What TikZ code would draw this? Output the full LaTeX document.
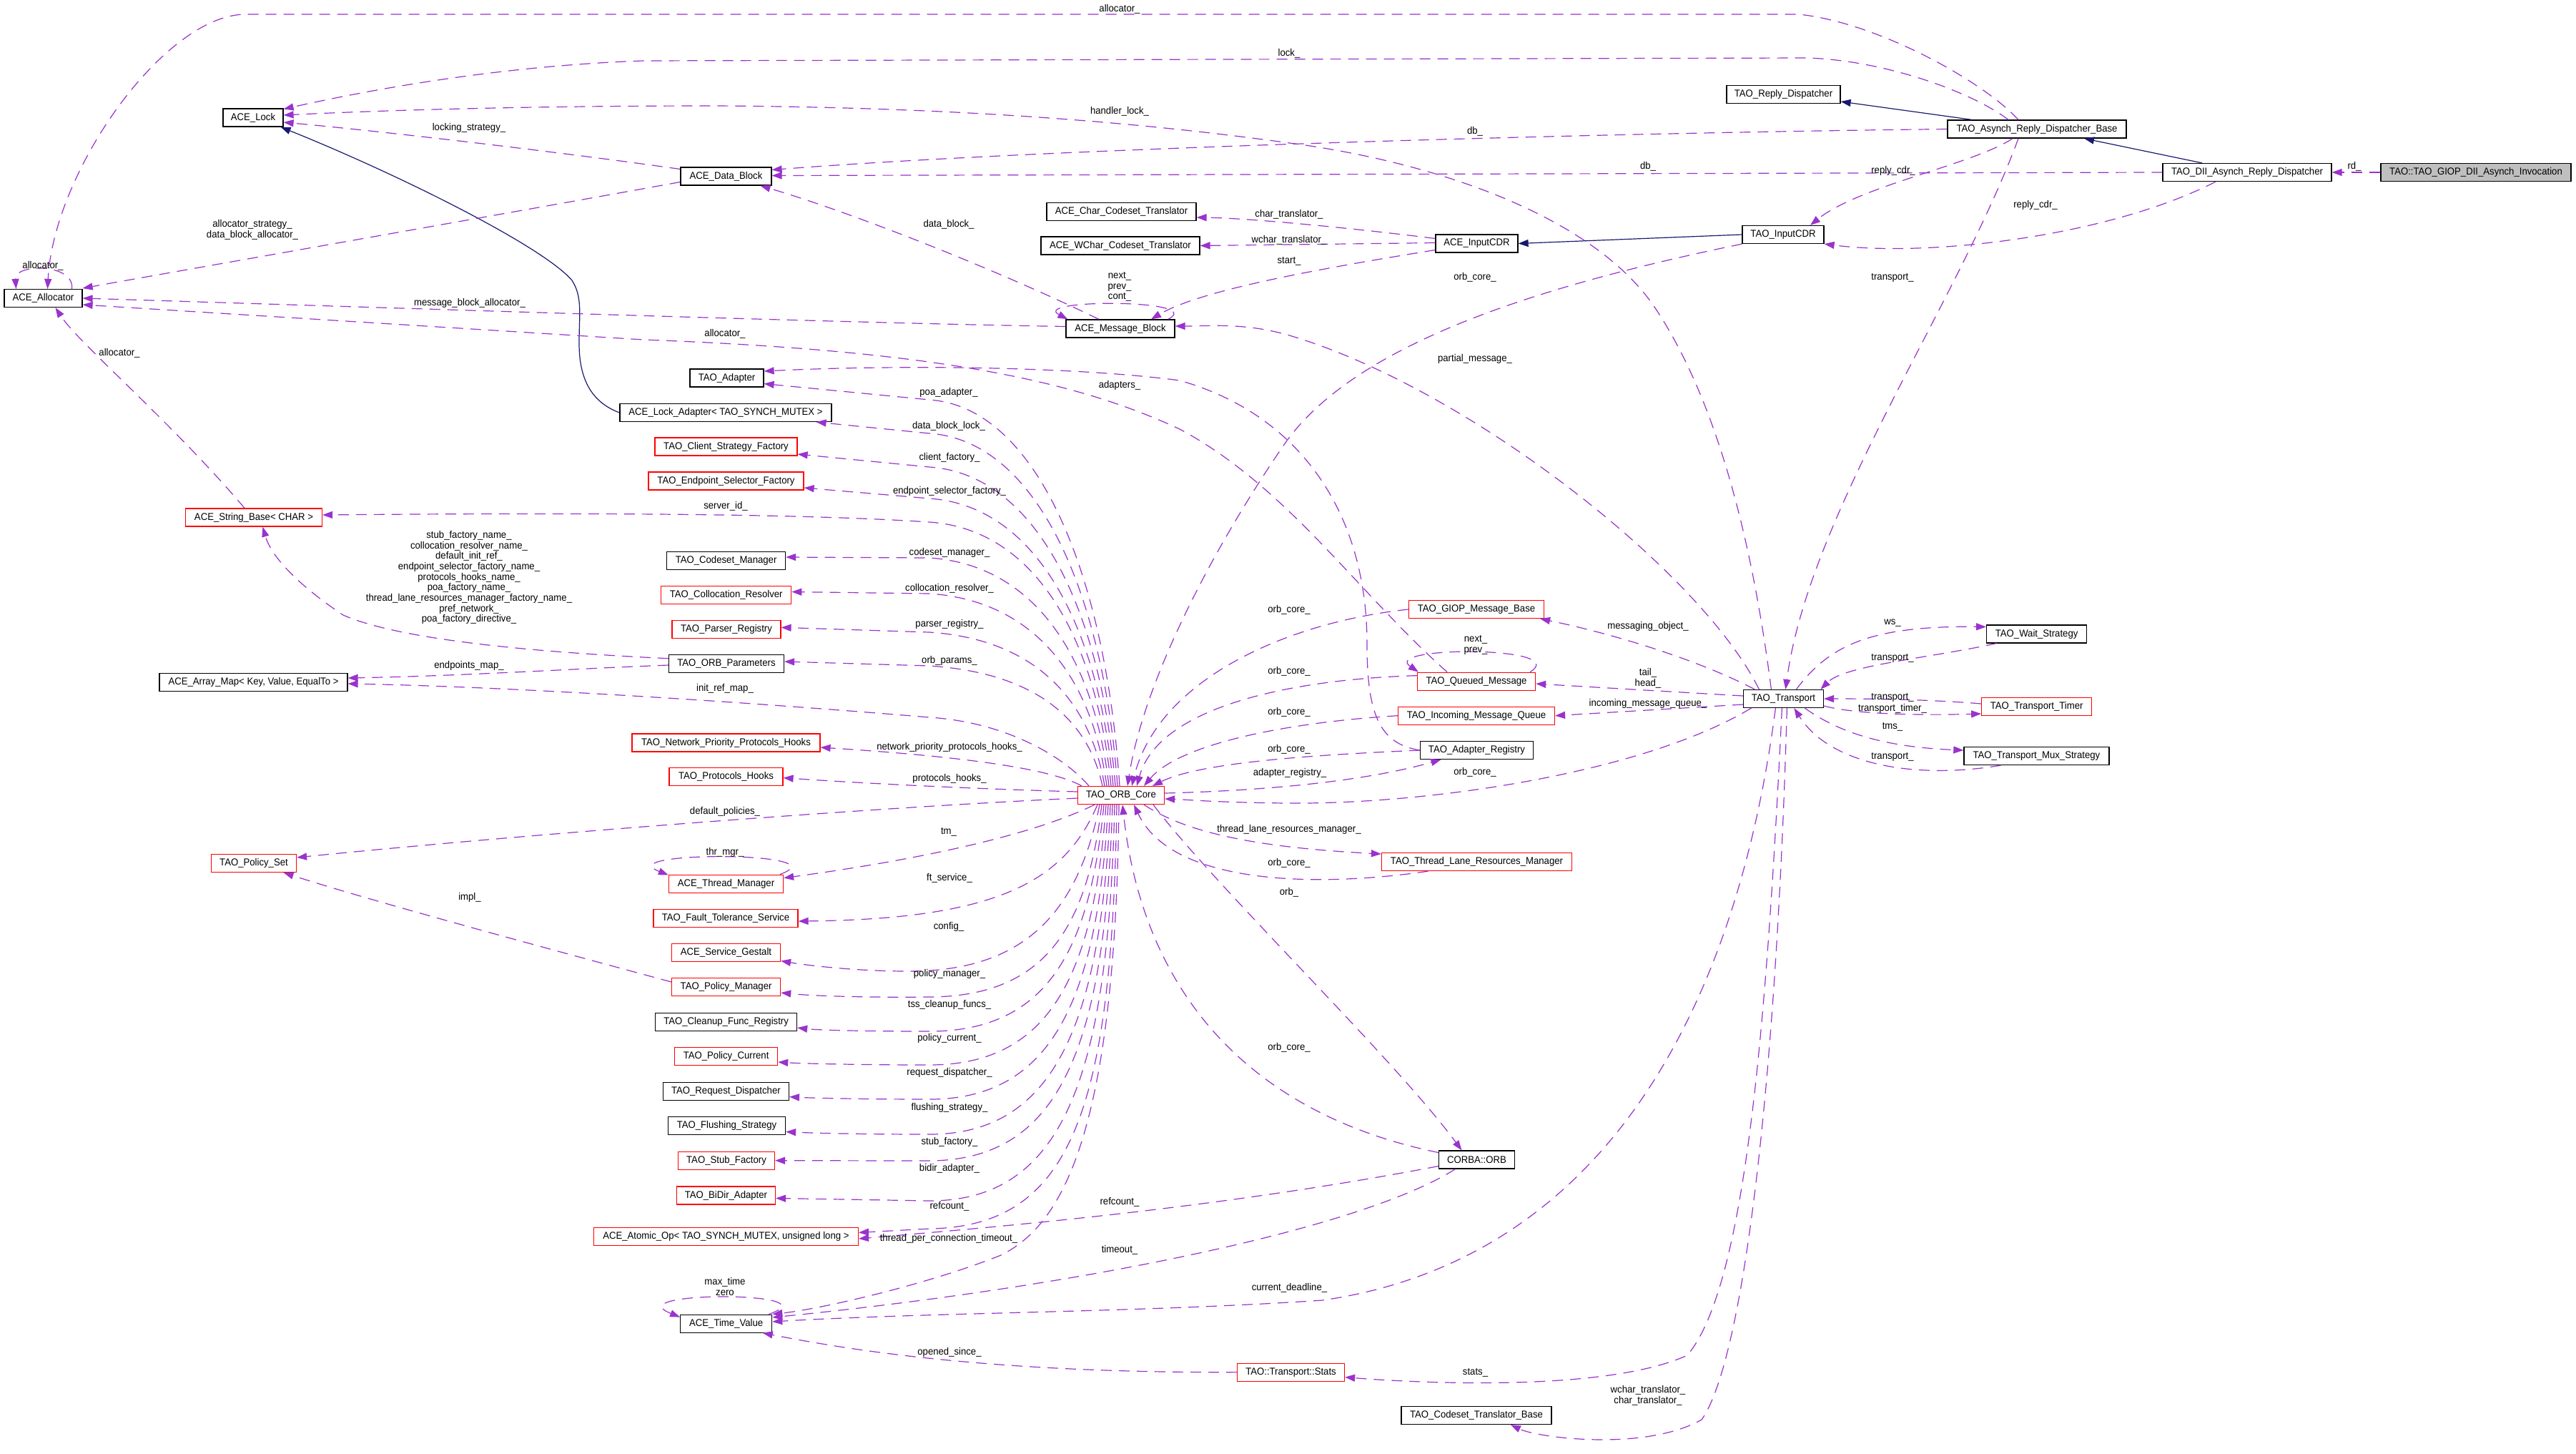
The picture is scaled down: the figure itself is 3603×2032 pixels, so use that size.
\documentclass[tikz,border=0pt]{standalone}
\usepackage{fontspec}
\setmainfont{Liberation Sans}[FakeStretch=0.94]
\usetikzlibrary{arrows.meta}
\definecolor{memc}{HTML}{9A32CD}
\definecolor{inhc}{HTML}{191970}
\definecolor{grayfill}{HTML}{BFBFBF}
\newcommand\lfont{\fontsize{14}{14.7}\selectfont}
\newcommand\topfan[3]{\draw[mem] ([xshift=-#1]core.north) .. controls ({1548-#1},{#2+0.45*(1099-#2)}) and (1450,{#2+10}) .. (1300,#2) -- #3;}
\begin{document}
\begin{tikzpicture}[x=1pt,y=-1pt,
  box/.style={draw=black, fill=white, line width=1.2pt, minimum height=25pt, inner sep=0pt, font=\lfont},
  rbox/.style={box, draw=red},
  mem/.style={draw=memc, line width=1.2pt, dash pattern=on 15pt off 10pt, -{Triangle[length=14pt,width=10pt]}},
  inh/.style={draw=inhc, line width=1.2pt, -{Triangle[length=14pt,width=10pt]}},
  lbl/.style={font=\lfont, align=center, inner sep=0pt}]
\fill[white] (0,0) rectangle (3603,2032);
\useasboundingbox (0,0) rectangle (3603,2032);
% ---------------- nodes
\node[box,minimum width=109pt] (alloc) at (60.5,417) {ACE\_Allocator};
\node[box,minimum width=84pt] (lock) at (354,164.5) {ACE\_Lock};
\node[box,minimum width=127pt] (datablock) at (1015.5,246.5) {ACE\_Data\_Block};
\node[box,minimum width=209pt] (chartr) at (1568.5,296) {ACE\_Char\_Codeset\_Translator};
\node[box,minimum width=222pt] (wchartr) at (1567,343.5) {ACE\_WChar\_Codeset\_Translator};
\node[box,minimum width=152pt] (msgblock) at (1567,459.5) {ACE\_Message\_Block};
\node[box,minimum width=103pt] (adapter) at (1016.5,528.5) {TAO\_Adapter};
\node[box,minimum width=296pt] (lockadapter) at (1015,577) {ACE\_Lock\_Adapter< TAO\_SYNCH\_MUTEX >};
\node[rbox,minimum width=199pt] (csf) at (1015.5,624.5) {TAO\_Client\_Strategy\_Factory};
\node[rbox,minimum width=217pt] (esf) at (1015.5,672.5) {TAO\_Endpoint\_Selector\_Factory};
\node[rbox,minimum width=191pt] (strbase) at (355,723.5) {ACE\_String\_Base< CHAR >};
\node[box,minimum width=166pt] (csm) at (1015.6,784) {TAO\_Codeset\_Manager};
\node[rbox,minimum width=182pt] (colres) at (1015.7,832) {TAO\_Collocation\_Resolver};
\node[rbox,minimum width=152pt] (parser) at (1016,880) {TAO\_Parser\_Registry};
\node[box,minimum width=161pt] (orbparams) at (1016,928) {TAO\_ORB\_Parameters};
\node[box,minimum width=263pt] (arraymap) at (354.5,954) {ACE\_Array\_Map< Key, Value, EqualTo >};
\node[rbox,minimum width=263pt] (nphooks) at (1015.5,1038.5) {TAO\_Network\_Priority\_Protocols\_Hooks};
\node[rbox,minimum width=159pt] (phooks) at (1015.5,1086) {TAO\_Protocols\_Hooks};
\node[rbox,minimum width=121pt] (core) at (1568,1112) {TAO\_ORB\_Core};
\node[rbox,minimum width=119pt] (policyset) at (355,1207) {TAO\_Policy\_Set};
\node[rbox,minimum width=160pt] (thrmgr) at (1015.5,1235.6) {ACE\_Thread\_Manager};
\node[rbox,minimum width=202pt] (fts) at (1015,1284) {TAO\_Fault\_Tolerance\_Service};
\node[rbox,minimum width=152pt] (gestalt) at (1015.5,1332) {ACE\_Service\_Gestalt};
\node[rbox,minimum width=152pt] (polman) at (1015.6,1380) {TAO\_Policy\_Manager};
\node[box,minimum width=198pt] (cleanup) at (1015.6,1428.7) {TAO\_Cleanup\_Func\_Registry};
\node[rbox,minimum width=144pt] (polcur) at (1015.6,1477) {TAO\_Policy\_Current};
\node[box,minimum width=176pt] (reqdisp) at (1015.4,1525.6) {TAO\_Request\_Dispatcher};
\node[box,minimum width=164pt] (flush) at (1016.5,1574) {TAO\_Flushing\_Strategy};
\node[rbox,minimum width=135pt] (stubf) at (1016,1622.7) {TAO\_Stub\_Factory};
\node[rbox,minimum width=138pt] (bidir) at (1015.4,1671.4) {TAO\_BiDir\_Adapter};
\node[rbox,minimum width=370pt] (atomic) at (1015.4,1729) {ACE\_Atomic\_Op< TAO\_SYNCH\_MUTEX, unsigned long >};
\node[box,minimum width=128pt] (timev) at (1015.7,1850.6) {ACE\_Time\_Value};
\node[rbox,minimum width=150pt] (stats) at (1805.5,1918.6) {TAO::Transport::Stats};
\node[box,minimum width=106pt] (corbaorb) at (2065.5,1621.5) {CORBA::ORB};
\node[box,minimum width=210pt] (ctb) at (2065,1979) {TAO\_Codeset\_Translator\_Base};
\node[rbox,minimum width=189pt] (giop) at (2065,852) {TAO\_GIOP\_Message\_Base};
\node[rbox,minimum width=165pt] (qmsg) at (2065,952.6) {TAO\_Queued\_Message};
\node[rbox,minimum width=219pt] (imq) at (2065,1000.7) {TAO\_Incoming\_Message\_Queue};
\node[box,minimum width=158pt] (adreg) at (2065.5,1049) {TAO\_Adapter\_Registry};
\node[rbox,minimum width=266pt] (tlrm) at (2065.5,1205) {TAO\_Thread\_Lane\_Resources\_Manager};
\node[box,minimum width=112pt] (transport) at (2494.4,977) {TAO\_Transport};
\node[box,minimum width=115pt] (inputcdr) at (2065.5,340.5) {ACE\_InputCDR};
\node[box,minimum width=114pt] (taoinputcdr) at (2494,328) {TAO\_InputCDR};
\node[box,minimum width=159pt] (replydisp) at (2494.5,132) {TAO\_Reply\_Dispatcher};
\node[box,minimum width=250pt] (ardb) at (2849,180.5) {TAO\_Asynch\_Reply\_Dispatcher\_Base};
\node[box,minimum width=236pt] (diiard) at (3143,241) {TAO\_DII\_Asynch\_Reply\_Dispatcher};
\node[box,fill=grayfill,minimum width=266pt] (invocation) at (3463,241) {TAO::TAO\_GIOP\_DII\_Asynch\_Invocation};
\node[box,minimum width=140pt] (waits) at (2848.6,886.4) {TAO\_Wait\_Strategy};
\node[rbox,minimum width=154pt] (ttimer) at (2848.7,988) {TAO\_Transport\_Timer};
\node[box,minimum width=203pt] (tms) at (2848.4,1057) {TAO\_Transport\_Mux\_Strategy};
% ---------------- inheritance
\draw[inh] ([xshift=-63]diiard.north) -- ([xshift=66]ardb.south);
\draw[inh] ([xshift=-91]ardb.north) -- ([yshift=-10]replydisp.east);
\draw[inh] (taoinputcdr.west) -- (inputcdr.east);
\draw[inh] (lockadapter.west) .. controls (835,565) and (810,540) .. (810,480) .. controls (810,440) and (815,415) .. (800,392) .. controls (760,345) and (560,245) .. ([xshift=-4]lock.south east);
% ---------------- top area
\draw[mem] (invocation.west) -- (diiard.east);
\draw[mem] (ardb.west) .. controls (2300,185) and (1500,205) .. ([yshift=9]datablock.east);
\draw[mem] (diiard.west) -- ([yshift=1]datablock.east);
\draw[mem] ([xshift=-26]ardb.north) .. controls (2770,110) and (2620,30) .. (2515,20) -- (344,20) .. controls (230,20) and (75,240) .. ([xshift=6]alloc.north);
\draw[mem] ([xshift=-40]ardb.north) .. controls (2760,130) and (2640,85) .. (2529,81) -- (900,85) .. controls (700,92) and (520,125) .. ([yshift=12]lock.east);
\draw[mem] ([xshift=-17]transport.north) .. controls (2450,750) and (2400,560) .. (2317,433.6) .. controls (2230,300) and (2000,225) .. (1800,199.5) .. controls (1600,172) and (1350,150) .. (1000,148) .. controls (700,148) and (500,156) .. ([yshift=3.5]lock.east);
\draw[mem] ([yshift=10]datablock.west) .. controls (800,215) and (550,185) .. ([yshift=-6.5]lock.east);
\draw[mem] ([yshift=-8]datablock.west) .. controls (700,300) and (300,370) .. ([yshift=14]alloc.east);
\draw[mem] ([xshift=40]alloc.north) .. controls (105,368) and (20,368) .. ([xshift=-38]alloc.north);
\draw[mem] ([xshift=-13]strbase.north) .. controls (240,590) and (110,480) .. ([xshift=17]alloc.south);
\draw[mem] ([yshift=3]msgblock.west) .. controls (1200,452) and (600,432) .. (alloc.east);
\draw[mem] ([xshift=-41]qmsg.north) .. controls (1900,830) and (1800,680) .. (1650,600) .. controls (1500,530) and (1300,490) .. (900,475) -- ([yshift=-9]alloc.east);
\draw[mem] (adreg.west) .. controls (1930,1040) and (1912,1000) .. (1912,900) .. controls (1912,720) and (1820,580) .. (1650,532) .. controls (1500,512) and (1250,510) .. ([yshift=9.5]adapter.east);
\draw[mem] ([xshift=-34]ardb.south) .. controls (2760,230) and (2600,260) .. ([xshift=38]taoinputcdr.north);
\draw[mem] ([xshift=-44]diiard.south) .. controls (2950,330) and (2700,360) .. (taoinputcdr.south east);
\draw[mem] ([xshift=-26]ardb.south) .. controls (2740,420) and (2530,720) .. ([xshift=3]transport.north);
\draw[mem] ([yshift=7]inputcdr.west) .. controls (1900,320) and (1750,305) .. ([yshift=-8]chartr.east);
\draw[mem] ([yshift=1]inputcdr.west) -- (wchartr.east);
\draw[mem] ([yshift=-9]inputcdr.west) .. controls (1850,375) and (1680,405) .. ([xshift=43]msgblock.north);
\draw[mem] ([xshift=-10]msgblock.north east) .. controls (1690,418) and (1440,418) .. ([xshift=3]msgblock.north west);
\draw[mem] ([xshift=-30]msgblock.north) .. controls (1400,380) and (1200,300) .. ([xshift=48]datablock.south);
\draw[mem] ([xshift=-34]transport.north) .. controls (2380,800) and (2050,540) .. (1800,468) .. controls (1740,451) and (1690,456) .. ([yshift=3.5]msgblock.east);
\draw[mem] ([yshift=7.3]orbparams.west) .. controls (750,912) and (560,895) .. (480,860) .. controls (420,820) and (380,780) .. ([xshift=12.4]strbase.south);
\draw[mem] ([yshift=-2]orbparams.west) .. controls (800,935) and (650,945) .. ([yshift=6]arraymap.east);
% ---------------- ORB core top fan
\topfan{2}{559}{([yshift=-8]adapter.east)}
\topfan{5}{606}{([xshift=-22]lockadapter.south east)}
\topfan{8}{653}{([yshift=-10.5]csf.east)}
\topfan{11}{697}{([yshift=-9.5]esf.east)}
\draw[mem] ([xshift=-14]core.north) .. controls (1534,896) and (1450,740) .. (1300,730) .. controls (1150,720) and (900,716) .. ([yshift=3.5]strbase.east);
\topfan{17}{780}{([yshift=5]csm.east)}
\topfan{20}{830}{([yshift=4.5]colres.east)}
\topfan{23}{884}{([yshift=2.7]parser.east)}
\topfan{26}{931}{([yshift=3]orbparams.east)}
\draw[mem] ([xshift=-45]core.north) .. controls (1490,1060) and (1410,1010) .. (1300,1003) .. controls (1000,978) and (700,960) .. ([yshift=-2]arraymap.east);
\draw[mem] ([xshift=-55]core.north) .. controls (1470,1075) and (1350,1058) .. ([yshift=-6.5]nphooks.east);
\draw[mem] ([yshift=5]core.west) .. controls (1400,1104) and (1250,1098) .. ([yshift=-1.6]phooks.east);
\draw[mem] ([yshift=-4]core.west) .. controls (1200,1130) and (700,1170) .. ([yshift=8]policyset.east);
\draw[mem] ([yshift=7]polman.west) .. controls (780,1330) and (520,1260) .. ([xshift=-18.5]policyset.south east);
% ---------------- ORB core bottom fan
\draw[mem] ([xshift=-5]thrmgr.north east) .. controls (1180,1190) and (850,1190) .. ([yshift=-1]thrmgr.north west);
\draw[mem] ([xshift=-37]core.south) .. controls (1450,1165) and (1300,1200) .. ([yshift=8]thrmgr.east);
\draw[mem] ([xshift=-33]core.south) .. controls (1490,1230) and (1400,1285) .. ([yshift=-4]fts.east);
\draw[mem] ([xshift=-30]core.south) .. controls (1505,1290) and (1420,1358) .. (1270,1358) .. controls (1200,1358) and (1130,1350) .. ([yshift=-11.5]gestalt.east);
\draw[mem] ([xshift=-27]core.south) .. controls (1520,1300) and (1460,1393) .. (1300,1394) .. controls (1200,1395) and (1130,1392) .. ([yshift=-8]polman.east);
\draw[mem] ([xshift=-24]core.south) .. controls (1525,1320) and (1470,1442) .. (1300,1442) .. controls (1200,1442) and (1140,1440) .. ([yshift=-8.3]cleanup.east);
\draw[mem] ([xshift=-21]core.south) .. controls (1530,1360) and (1470,1489) .. (1300,1489) .. controls (1200,1489) and (1120,1487) .. ([yshift=-8]polcur.east);
\draw[mem] ([xshift=-18]core.south) .. controls (1535,1400) and (1470,1537) .. (1300,1537) .. controls (1200,1537) and (1130,1535) .. ([yshift=-8]reqdisp.east);
\draw[mem] ([xshift=-15]core.south) .. controls (1540,1440) and (1470,1586) .. (1300,1586) .. controls (1200,1586) and (1130,1584) .. ([yshift=-8.5]flush.east);
\draw[mem] ([xshift=-12]core.south) .. controls (1545,1470) and (1480,1622) .. (1300,1623) -- (stubf.east);
\draw[mem] ([xshift=-9]core.south) .. controls (1550,1500) and (1490,1679) .. (1300,1679) -- ([yshift=-4]bidir.east);
\draw[mem] ([xshift=-6]core.south) .. controls (1555,1550) and (1500,1715) .. (1300,1718) -- ([yshift=5.6]atomic.east);
\draw[mem] ([xshift=-3]core.south) .. controls (1560,1600) and (1480,1715) .. (1400,1755) .. controls (1300,1795) and (1150,1830) .. (timev.north east);
\draw[mem] ([xshift=-5]timev.north east) .. controls (1170,1805) and (860,1805) .. ([yshift=9]timev.west);
% ---------------- right of ORB core
\draw[mem] ([yshift=10]corbaorb.west) .. controls (1760,1560) and (1600,1400) .. ([xshift=2]core.south);
\draw[mem] ([xshift=45]core.south) .. controls (1700,1240) and (1950,1480) .. ([xshift=-21]corbaorb.north);
\draw[mem] ([xshift=32]core.south) .. controls (1660,1165) and (1760,1185) .. ([yshift=11]tlrm.west);
\draw[mem] ([xshift=-68]tlrm.south) .. controls (1850,1240) and (1640,1240) .. ([xshift=18]core.south);
\draw[mem] ([xshift=-45]transport.south) .. controls (2300,1080) and (2000,1125) .. (1800,1123) .. controls (1700,1122) and (1660,1118) .. ([yshift=-5]core.east);
\draw[mem] ([yshift=3]core.east) .. controls (1750,1106) and (1900,1095) .. ([xshift=-50]adreg.south);
\draw[mem] (adreg.west) .. controls (1850,1055) and (1680,1065) .. ([xshift=44]core.north);
\draw[mem] (imq.west) .. controls (1800,1010) and (1650,1040) .. ([xshift=32]core.north);
\draw[mem] ([yshift=8]qmsg.west) .. controls (1800,950) and (1620,990) .. ([xshift=22]core.north);
\draw[mem] (giop.west) .. controls (1800,870) and (1620,950) .. ([xshift=15]core.north);
\draw[mem] (taoinputcdr.south west) .. controls (2150,400) and (1900,480) .. (1800,616) .. controls (1700,760) and (1600,950) .. ([xshift=9]core.north);
\draw[mem] ([xshift=-8]qmsg.north east) .. controls (2200,903) and (1930,903) .. ([xshift=2]qmsg.north west);
% ---------------- transport
\draw[mem] ([xshift=-40]transport.north) .. controls (2370,920) and (2250,885) .. ([xshift=-6]giop.south east);
\draw[mem] ([yshift=4]transport.west) -- ([yshift=-3.4]qmsg.east);
\draw[mem] ([yshift=-8]transport.west) -- (imq.east);
\draw[mem] ([xshift=-56]waits.south) .. controls (2700,920) and (2580,930) .. ([xshift=52]transport.north);
\draw[mem] ([xshift=18]transport.north) .. controls (2560,900) and (2620,875) .. ([yshift=10]waits.west);
\draw[mem] ([yshift=4]ttimer.west) .. controls (2700,978) and (2620,977) .. (transport.east);
\draw[mem] ([yshift=-10]transport.east) .. controls (2600,1000) and (2700,1000) .. ([yshift=-10]ttimer.west);
\draw[mem] ([xshift=30]transport.south) .. controls (2580,1030) and (2650,1045) .. ([yshift=8]tms.west);
\draw[mem] ([xshift=-50]tms.south) .. controls (2680,1090) and (2560,1070) .. ([xshift=15]transport.south);
\draw[mem] ([xshift=-11]transport.south) .. controls (2430,1400) and (2250,1760) .. (1850,1818) .. controls (1600,1835) and (1300,1835) .. ([yshift=2.6]timev.east);
\draw[mem] ([xshift=-2]transport.south) .. controls (2470,1450) and (2440,1800) .. (2360,1895) .. controls (2250,1945) and (2000,1935) .. ([yshift=-7]stats.east);
\draw[mem] ([xshift=5]transport.south) .. controls (2485,1500) and (2440,1900) .. (2380,1985) .. controls (2300,2030) and (2150,2010) .. ([xshift=48]ctb.south);
\draw[mem] (stats.west) .. controls (1400,1920) and (1200,1890) .. ([xshift=51]timev.south);
\draw[mem] ([yshift=-9]corbaorb.west) .. controls (1700,1690) and (1400,1715) .. ([yshift=-3]atomic.east);
\draw[mem] ([xshift=-30]corbaorb.south) .. controls (1900,1720) and (1500,1800) .. ([yshift=8.6]timev.east);
% ---------------- labels
\node[lbl] (t1) at (1566,13) {allocator\_};
\node[lbl] (t2) at (1803,75) {lock\_};
\node[lbl] (t3) at (1566,156) {handler\_lock\_};
\node[lbl] (t4) at (2063,184) {db\_};
\node[lbl] (t5) at (2305,233) {db\_};
\node[lbl] (t6) at (2648,239) {reply\_cdr\_};
\node[lbl] (t7) at (2847,287) {reply\_cdr\_};
\node[lbl] (t8) at (3293,233) {rd\_};
\node[lbl] (t9) at (656,179) {locking\_strategy\_};
\node[lbl] (t10) at (353,321.5) {allocator\_strategy\_\\data\_block\_allocator\_};
\node[lbl] (t11) at (60,372) {allocator\_};
\node[lbl] (t12) at (657,424) {message\_block\_allocator\_};
\node[lbl] (t13) at (167,494) {allocator\_};
\node[lbl] (t14) at (1327,314) {data\_block\_};
\node[lbl] (t15) at (1803,300) {char\_translator\_};
\node[lbl] (t16) at (1803,336) {wchar\_translator\_};
\node[lbl] (t17) at (1803,365) {start\_};
\node[lbl] (t18) at (1566,401) {next\_\\prev\_\\cont\_};
\node[lbl] (t19) at (1014,467) {allocator\_};
\node[lbl] (t20) at (1566,539) {adapters\_};
\node[lbl] (t21) at (1327,549) {poa\_adapter\_};
\node[lbl] (t22) at (1327,596) {data\_block\_lock\_};
\node[lbl] (t23) at (1328,640) {client\_factory\_};
\node[lbl] (t24) at (1328,687) {endpoint\_selector\_factory\_};
\node[lbl] (t25) at (1015,708) {server\_id\_};
\node[lbl] (t26) at (656,807.5) {stub\_factory\_name\_\\collocation\_resolver\_name\_\\default\_init\_ref\_\\endpoint\_selector\_factory\_name\_\\protocols\_hooks\_name\_\\poa\_factory\_name\_\\thread\_lane\_resources\_manager\_factory\_name\_\\pref\_network\_\\poa\_factory\_directive\_};
\node[lbl] (t27) at (656,931) {endpoints\_map\_};
\node[lbl] (t28) at (1328,773) {codeset\_manager\_};
\node[lbl] (t29) at (1328,823) {collocation\_resolver\_};
\node[lbl] (t30) at (1328,873) {parser\_registry\_};
\node[lbl] (t31) at (1328,924) {orb\_params\_};
\node[lbl] (t32) at (1014,963) {init\_ref\_map\_};
\node[lbl] (t33) at (1328,1045) {network\_priority\_protocols\_hooks\_};
\node[lbl] (t34) at (1328,1088.6) {protocols\_hooks\_};
\node[lbl] (t35) at (1014,1134.5) {default\_policies\_};
\node[lbl] (t36) at (657,1255) {impl\_};
\node[lbl] (t37) at (1327,1163) {tm\_};
\node[lbl] (t38) at (1014,1192) {thr\_mgr\_};
\node[lbl] (t39) at (1328,1228) {ft\_service\_};
\node[lbl] (t40) at (1327,1296) {config\_};
\node[lbl] (t41) at (1328,1362) {policy\_manager\_};
\node[lbl] (t42) at (1328,1405) {tss\_cleanup\_funcs\_};
\node[lbl] (t43) at (1328,1452) {policy\_current\_};
\node[lbl] (t44) at (1328,1500) {request\_dispatcher\_};
\node[lbl] (t45) at (1328,1548.6) {flushing\_strategy\_};
\node[lbl] (t46) at (1328,1597) {stub\_factory\_};
\node[lbl] (t47) at (1328,1633.6) {bidir\_adapter\_};
\node[lbl] (t48) at (1328,1687) {refcount\_};
\node[lbl] (t49) at (1327,1732) {thread\_per\_connection\_timeout\_};
\node[lbl] (t50) at (1566,1680.5) {refcount\_};
\node[lbl] (t51) at (1566,1747.6) {timeout\_};
\node[lbl] (t52) at (1803.5,1801) {current\_deadline\_};
\node[lbl] (t53) at (1014,1799) {max\_time\\zero};
\node[lbl] (t54) at (1328,1891) {opened\_since\_};
\node[lbl] (t55) at (1803,1465) {orb\_core\_};
\node[lbl] (t56) at (2063.5,1919) {stats\_};
\node[lbl] (t57) at (2305,1951) {wchar\_translator\_\\char\_translator\_};
\node[lbl] (t58) at (1803,852.6) {orb\_core\_};
\node[lbl] (t59) at (1803,938.5) {orb\_core\_};
\node[lbl] (t60) at (1803,995.7) {orb\_core\_};
\node[lbl] (t61) at (1803,1047.7) {orb\_core\_};
\node[lbl] (t62) at (1804,1080.7) {adapter\_registry\_};
\node[lbl] (t63) at (1803,1159.6) {thread\_lane\_resources\_manager\_};
\node[lbl] (t64) at (1803,1206.5) {orb\_core\_};
\node[lbl] (t65) at (1803,1248) {orb\_};
\node[lbl] (t66) at (2063,388) {orb\_core\_};
\node[lbl] (t67) at (2063,502) {partial\_message\_};
\node[lbl] (t68) at (2647,388) {transport\_};
\node[lbl] (t69) at (2305,876) {messaging\_object\_};
\node[lbl] (t70) at (2064,902) {next\_\\prev\_};
\node[lbl] (t71) at (2305,948) {tail\_\\head\_};
\node[lbl] (t72) at (2305,983.5) {incoming\_message\_queue\_};
\node[lbl] (t73) at (2063,1080) {orb\_core\_};
\node[lbl] (t74) at (2647,871) {ws\_};
\node[lbl] (t75) at (2647,920) {transport\_};
\node[lbl] (t76) at (2647,975) {transport\_};
\node[lbl] (t77) at (2647,991) {transport\_timer\_};
\node[lbl] (t78) at (2647,1016) {tms\_};
\node[lbl] (t79) at (2647,1058.6) {transport\_};
\end{tikzpicture}
\end{document}
